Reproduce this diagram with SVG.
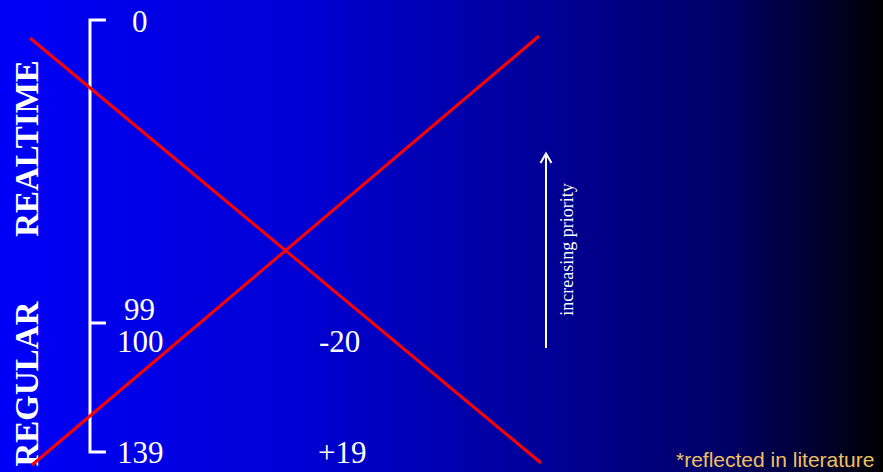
<svg xmlns="http://www.w3.org/2000/svg" width="883" height="472" viewBox="0 0 883 472">
<defs>
<linearGradient id="bg" x1="0" y1="0" x2="1" y2="0">
<stop offset="0" stop-color="#0000f8"/>
<stop offset="0.35" stop-color="#0000d2"/>
<stop offset="0.63" stop-color="#000094"/>
<stop offset="0.82" stop-color="#000066"/>
<stop offset="0.94" stop-color="#000028"/>
<stop offset="1" stop-color="#000000"/>
</linearGradient>
</defs>
<style>
.num{font-family:"Liberation Serif","Times New Roman",serif;font-size:31px;fill:#ffffff}
.lbl{font-family:"Liberation Serif","Times New Roman",serif;font-size:33px;font-weight:bold;fill:#ffffff}
.small{font-family:"Liberation Serif","Times New Roman",serif;font-size:18px;fill:#ffffff}
.note{font-family:"Liberation Sans",Arial,sans-serif;font-size:21px;fill:#f0c060}
.wl{stroke:#ffffff;stroke-width:3;fill:none}
.red{stroke:#ff0000;stroke-width:3;fill:none}
</style>
<rect x="0" y="0" width="883" height="472" fill="url(#bg)"/>
<g id="bracket">
<path class="wl" d="M106,20 H90 V452 H106 M90,323 H106"/>
</g>
<g id="labels">
<text class="lbl" transform="translate(38,148.5) rotate(-90)" text-anchor="middle">REALTIME</text>
<text class="lbl" transform="translate(38,384) rotate(-90)" text-anchor="middle">REGULAR</text>
</g>
<g id="numbers">
<text class="num" x="132" y="32">0</text>
<text class="num" x="124" y="320">99</text>
<text class="num" x="117" y="352">100</text>
<text class="num" x="117" y="463">139</text>
<text class="num" x="319" y="352">-20</text>
<text class="num" x="318" y="463">+19</text>
</g>
<g id="connectors">
<line class="red" x1="30" y1="38" x2="541" y2="463"/>
<line class="red" x1="32" y1="465" x2="539" y2="36"/>
</g>
<g id="priority-arrow">
<path class="wl" style="stroke-width:2" d="M546,348 V154 M540.5,163 L546,153.5 L551.5,163"/>
<text class="small" transform="translate(573,249.5) rotate(-90)" text-anchor="middle">increasing priority</text>
</g>
<g id="note">
<text class="note" x="676" y="467">*reflected in literature</text>
</g>
</svg>
